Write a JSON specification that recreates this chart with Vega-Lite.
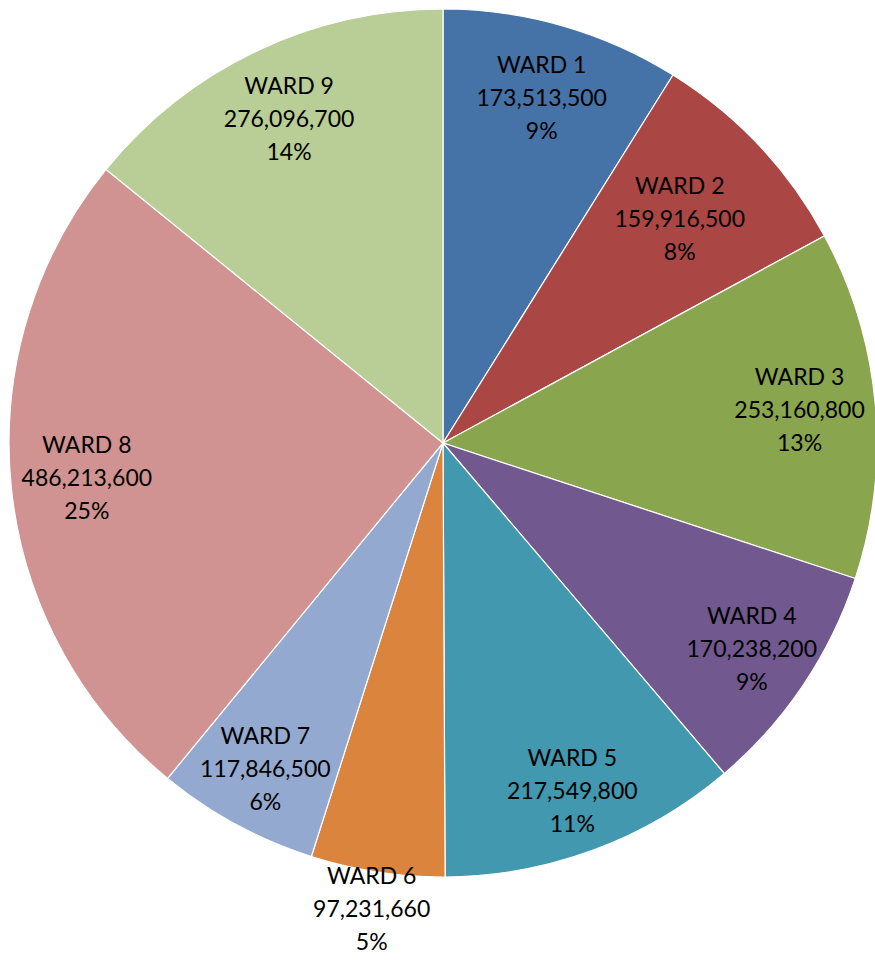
{
  "$schema": "https://vega.github.io/schema/vega-lite/v6.json",
  "width": 886,
  "height": 886,
  "autosize": {"type": "none"},
  "padding": {"left": 0, "top": 0, "right": 0, "bottom": 74},
  "background": "white",
  "view": {"stroke": null},
  "data": {"values": [
    {"ward": "WARD 1", "value": 173513500},
    {"ward": "WARD 2", "value": 159916500},
    {"ward": "WARD 3", "value": 253160800},
    {"ward": "WARD 4", "value": 170238200},
    {"ward": "WARD 5", "value": 217549800},
    {"ward": "WARD 6", "value": 97231660},
    {"ward": "WARD 7", "value": 117846500},
    {"ward": "WARD 8", "value": 486213600},
    {"ward": "WARD 9", "value": 276096700}
  ]},
  "transform": [
    {"joinaggregate": [{"op": "sum", "field": "value", "as": "total"}]},
    {"calculate": "[datum.ward, format(datum.value, ','), format(datum.value / datum.total, '.0%')]", "as": "label"}
  ],
  "encoding": {
    "theta": {"field": "value", "type": "quantitative", "stack": true},
    "order": {"field": "ward", "type": "nominal"}
  },
  "layer": [
    {
      "mark": {"type": "arc", "outerRadius": 434, "stroke": "white", "strokeWidth": 1.2},
      "encoding": {
        "color": {
          "field": "ward", "type": "nominal", "legend": null,
          "scale": {
            "domain": ["WARD 1", "WARD 2", "WARD 3", "WARD 4", "WARD 5", "WARD 6", "WARD 7", "WARD 8", "WARD 9"],
            "range": ["#4572A7", "#AA4643", "#89A54E", "#71588F", "#4198AF", "#DB843D", "#93A9CF", "#D19392", "#B9CD96"]
          }
        }
      }
    },
    {
      "mark": {"type": "text", "radius": 358, "dy": -33, "font": "Lato", "fontSize": 23, "lineHeight": 33, "color": "black", "align": "center", "baseline": "middle"},
      "encoding": {
        "text": {"condition": {"test": "indexof(['WARD 1','WARD 3','WARD 8','WARD 9'], datum.ward) >= 0", "field": "label"}, "value": ""}
      }
    },
    {
      "mark": {"type": "text", "radius": 325, "dy": -33, "font": "Lato", "fontSize": 23, "lineHeight": 33, "color": "black", "align": "center", "baseline": "middle"},
      "encoding": {
        "text": {"condition": {"test": "datum.ward == 'WARD 2'", "field": "label"}, "value": ""}
      }
    },
    {
      "mark": {"type": "text", "radius": 372, "dy": -33, "font": "Lato", "fontSize": 23, "lineHeight": 33, "color": "black", "align": "center", "baseline": "middle"},
      "encoding": {
        "text": {"condition": {"test": "indexof(['WARD 4','WARD 5','WARD 7'], datum.ward) >= 0", "field": "label"}, "value": ""}
      }
    },
    {
      "mark": {"type": "text", "radius": 472, "dy": -33, "font": "Lato", "fontSize": 23, "lineHeight": 33, "color": "black", "align": "center", "baseline": "middle"},
      "encoding": {
        "text": {"condition": {"test": "datum.ward == 'WARD 6'", "field": "label"}, "value": ""}
      }
    }
  ]
}
